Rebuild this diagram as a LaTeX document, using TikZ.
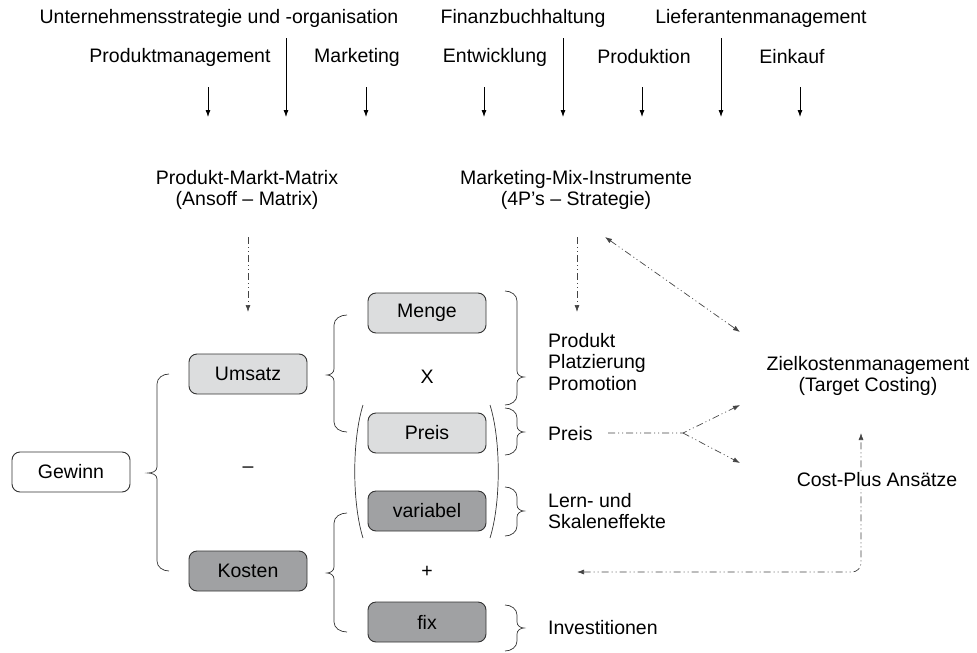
\documentclass[tikz,border=0pt]{standalone}
\usepackage{fontspec}
\setmainfont{Liberation Sans}
\usetikzlibrary{arrows.meta}
\definecolor{boxlight}{HTML}{DCDDDE}
\definecolor{boxdark}{HTML}{A0A1A3}
\definecolor{linec}{HTML}{333333}
\definecolor{dashc}{HTML}{444444}
% left-pointing brace: end x, spine x, tip x, top y, tip y, bottom y
\newcommand{\BrL}[6]{%
  \draw[brc] (#1,#4) to[out=180,in=90] (#2,#4+10) -- (#2,#5-6)
    to[out=-90,in=0] (#3,#5) to[out=0,in=90] (#2,#5+6) -- (#2,#6-10)
    to[out=-90,in=180] (#1,#6);}
% right-pointing brace: end x, spine x, tip x, top y, tip y, bottom y
\newcommand{\BrR}[6]{%
  \draw[brc] (#1,#4) to[out=0,in=90] (#2,#4+10) -- (#2,#5-6)
    to[out=-90,in=180] (#3,#5) to[out=180,in=90] (#2,#5+6) -- (#2,#6-10)
    to[out=-90,in=0] (#1,#6);}
\begin{document}
\begin{tikzpicture}[x=1pt,y=-1pt,
  font=\fontsize{19.5}{21.5}\selectfont,
  box/.style={draw=linec, line width=0.9pt, rounded corners=8pt,
    minimum width=118pt, minimum height=40pt, inner sep=0pt},
  whitebox/.style={box, fill=white},
  lightbox/.style={box, fill=boxlight},
  darkbox/.style={box, fill=boxdark},
  lbl/.style={inner sep=0pt, align=center},
  side/.style={inner sep=0pt, anchor=west, align=left},
  arr/.style={line width=0.8pt, -{Latex[length=7pt,width=5pt]}},
  dd/.style={draw=dashc, line width=0.7pt,
    dash pattern=on 7pt off 3pt on 1pt off 3pt on 1pt off 3pt},
  ddarr/.style={dd, -{Latex[length=7pt,width=5pt]}},
  brc/.style={draw=linec, line width=0.7pt}]
\useasboundingbox (0,0) rectangle (977,653);

% departments and functions
\node[lbl] (ust) at (219,18) {Unternehmensstrategie und -organisation};
\node[lbl] (fib) at (523,18) {Finanzbuchhaltung};
\node[lbl] (lief) at (761,18) {Lieferantenmanagement};
\node[lbl] (pm) at (180,57) {Produktmanagement};
\node[lbl] (mk) at (357,57) {Marketing};
\node[lbl] (ew) at (495,57) {Entwicklung};
\node[lbl] (pd) at (644,57) {Produktion};
\node[lbl] (ek) at (792,57) {Einkauf};

\coordinate (s1) at (208,87);  \coordinate (e1) at (208,117);
\coordinate (s2) at (286,38);  \coordinate (e2) at (286,117);
\coordinate (s3) at (366,87);  \coordinate (e3) at (366,117);
\coordinate (s4) at (484,87);  \coordinate (e4) at (484,117);
\coordinate (s5) at (563,38);  \coordinate (e5) at (563,117);
\coordinate (s6) at (642,87);  \coordinate (e6) at (642,117);
\coordinate (s7) at (721,38);  \coordinate (e7) at (721,117);
\coordinate (s8) at (800,87);  \coordinate (e8) at (800,117);
\foreach \i in {1,...,8} {\draw[arr] (s\i) -- (e\i);}

% strategic instruments
\node[lbl] (pmm) at (247,190) {Produkt-Markt-Matrix\\(Ansoff – Matrix)};
\node[lbl] (mmi) at (576,190) {Marketing-Mix-Instrumente\\(4P’s – Strategie)};
\coordinate (d1s) at (248,237); \coordinate (d1e) at (248,312);
\coordinate (d2s) at (577,237); \coordinate (d2e) at (577,312);
\draw[ddarr] (d1s) -- (d1e);
\draw[ddarr] (d2s) -- (d2e);

% profit tree
\node[whitebox] (gew) at (71,472) {Gewinn};
\node[lightbox] (ums) at (248,374) {Umsatz};
\node[darkbox] (kos) at (248,571) {Kosten};
\node[lightbox] (men) at (427,313) {Menge};
\node[lightbox] (pre) at (427,433) {Preis};
\node[darkbox] (var) at (427,511) {variabel};
\node[darkbox] (fix) at (427,622) {fix};
\node[lbl] (minus) at (248,470) {–};
\node[lbl] (mal) at (427,377) {X};
\node[lbl] (plus) at (427,572) {+};

\BrL{169}{157}{148}{374}{473}{571}
\BrL{347}{334}{327}{315}{375}{432}
\BrL{347}{334}{327}{513}{573}{632}
\draw[brc] (363,405) .. controls (352,440) and (352,503) .. (363,538);
\draw[brc] (490,405) .. controls (501,440) and (501,503) .. (490,538);
\BrR{505}{517}{524}{291}{377}{405}
\BrR{505}{517}{524}{408}{432}{455}
\BrR{505}{517}{524}{487}{511}{536}
\BrR{505}{517}{524}{605}{628}{651}

\node[side] (ppp) at (548,362) {Produkt\\Platzierung\\Promotion};
\node[side] (tpr) at (548,434) {Preis};
\node[side] (lse) at (548,511) {Lern- und\\Skaleneffekte};
\node[side] (inv) at (548,628) {Investitionen};

% target costing
\node[lbl] (zkm) at (868,376) {Zielkostenmanagement\\(Target Costing)};
\coordinate (bi1) at (605,237); \coordinate (bi2) at (740,332);
\draw[dd, {Latex[length=7pt,width=5pt]}-{Latex[length=7pt,width=5pt]}] (bi1) -- (bi2);

\coordinate (p0) at (608,433);
\coordinate (fork) at (683,433);
\coordinate (z1) at (740,405);
\coordinate (z2) at (740,463);
\draw[ddarr] (p0) -- (fork) -- (z1);
\draw[ddarr] (fork) -- (z2);

\coordinate (cpl) at (577,572);
\coordinate (cpc) at (861,572);
\coordinate (cpt) at (861,433);
\draw[dd, {Latex[length=7pt,width=5pt]}-{Latex[length=7pt,width=5pt]}, rounded corners=9pt]
  (cpl) -- (cpc) -- (cpt);
\node[fill=white, inner xsep=1pt, inner ysep=2pt] (cpa) at (877,480) {Cost-Plus Ansätze};
\end{tikzpicture}
\end{document}
